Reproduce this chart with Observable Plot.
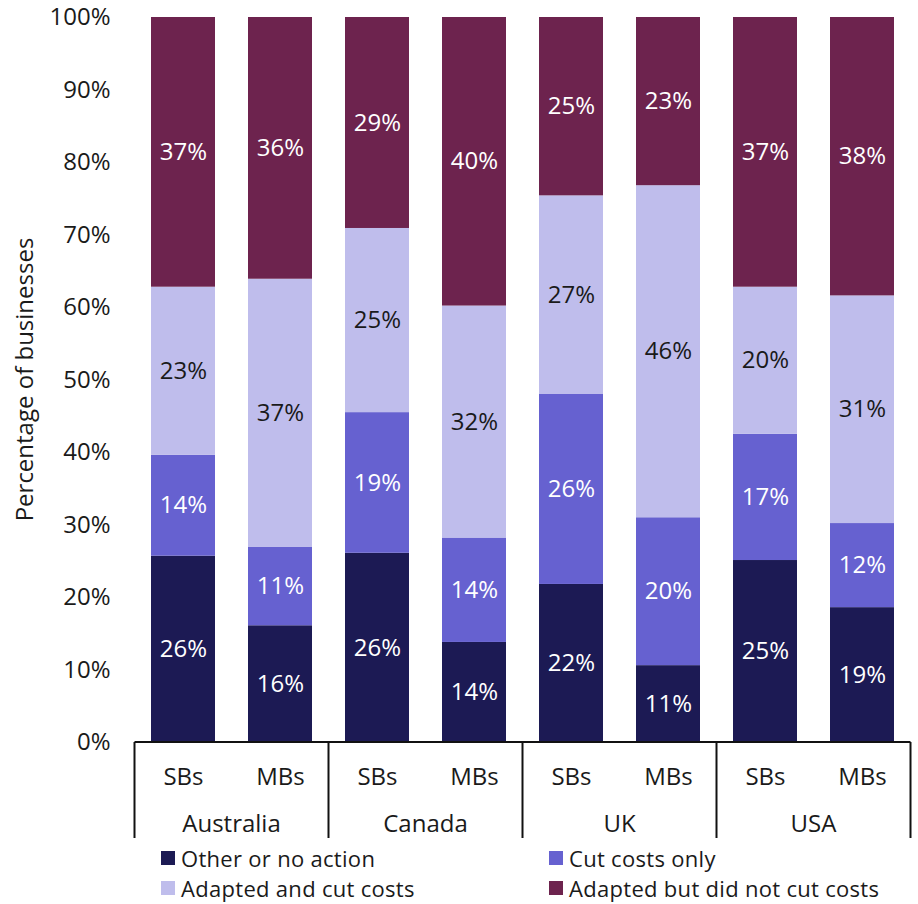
<!DOCTYPE html>
<html><head><meta charset="utf-8">
<script src="https://cdn.jsdelivr.net/npm/d3@7"></script>
<script src="https://cdn.jsdelivr.net/npm/@observablehq/plot@0.6"></script>
<style>
body{margin:0;background:#fff;font-family:"Open Sans",sans-serif;}
#wrap{position:relative;width:918px;height:904px;overflow:hidden;}
#chart svg{display:block;}
.leg{position:absolute;font-size:22px;letter-spacing:0.3px;color:#1a1a1a;display:flex;align-items:center;white-space:nowrap;line-height:1;}
.sw{width:14px;height:14px;margin-right:6px;flex:none;}
</style></head><body><div id="wrap"><div id="chart"></div></div>
<script>
const countries = ["Australia", "Canada", "UK", "USA"];
const sizes = ["SBs", "MBs"];
const categories = ["Other or no action", "Cut costs only", "Adapted and cut costs", "Adapted but did not cut costs"];
const colors = ["#1c1a54", "#6661d0", "#bfbdec", "#6d234e"];
// bar order: Australia SBs, Australia MBs, Canada SBs, Canada MBs, UK SBs, UK MBs, USA SBs, USA MBs
const otherNoAction = [25.7, 16.1, 26.1, 13.8, 21.8, 10.6, 25.1, 18.6];
const cutCostsOnly  = [13.9, 10.8, 19.4, 14.4, 26.2, 20.4, 17.4, 11.6];
const adaptedAndCut = [23.2, 37.0, 25.4, 32.0, 27.4, 45.8, 20.3, 31.4];
const adaptedNotCut = [37.2, 36.1, 29.1, 39.8, 24.6, 23.2, 37.2, 38.4];
const yTicks = [0, 10, 20, 30, 40, 50, 60, 70, 80, 90, 100];

const series = [otherNoAction, cutCostsOnly, adaptedAndCut, adaptedNotCut];
const keys = [];
countries.forEach(c => sizes.forEach(s => keys.push(c + "|" + s)));
const data = [];
categories.forEach((cat, ci) => {
  keys.forEach((k, i) => data.push({key: k, country: k.split("|")[0], size: k.split("|")[1], cat, value: series[ci][i]}));
});

const FS = 24;
const darkText = "Adapted and cut costs";

function groupMark(index, scales, values, dimensions) {
  const x = scales.x, y = scales.y;
  const bw = x.bandwidth(), step = x.step();
  const half = (step - bw) / 2;
  const y0 = y(0);
  const g = d3.create("svg:g");
  const edges = [];
  countries.forEach((c, i) => {
    const first = x(c + "|" + sizes[0]);
    const last = x(c + "|" + sizes[sizes.length - 1]);
    const left = first - half, right = last + bw + half;
    if (i === 0) edges.push(left);
    edges.push(right);
    g.append("text")
      .attr("x", (left + right) / 2)
      .attr("y", y0 + 90)
      .attr("text-anchor", "middle")
      .attr("font-size", FS)
      .attr("fill", "#1a1a1a")
      .text(c);
  });
  g.append("line").attr("x1", edges[0]).attr("x2", edges[edges.length - 1])
    .attr("y1", y0).attr("y2", y0).attr("stroke", "#111").attr("stroke-width", 2);
  edges.forEach(e => g.append("line").attr("x1", e).attr("x2", e)
    .attr("y1", y0).attr("y2", y0 + 96).attr("stroke", "#111").attr("stroke-width", 2));
  g.append("text")
    .attr("transform", `translate(25,${(y(0) + y(100)) / 2}) rotate(-90)`)
    .attr("text-anchor", "middle")
    .attr("dy", "0.35em")
    .attr("font-size", FS)
    .attr("fill", "#1a1a1a")
    .text("Percentage of businesses");
  return g.node();
}

const chart = Plot.plot({
  width: 918,
  height: 845,
  marginTop: 17,
  marginLeft: 134,
  marginRight: 7,
  marginBottom: 103,
  style: {fontFamily: "'Open Sans', sans-serif", fontSize: FS + "px", color: "#1a1a1a", background: "white"},
  x: {domain: keys, paddingInner: 0.34, paddingOuter: 0.17, label: null},
  y: {domain: [0, 100], label: null},
  color: {domain: categories, range: colors},
  marks: [
    Plot.barY(data, {x: "key", y: "value", fill: "cat", order: categories}),
    Plot.text(data, Plot.stackY({x: "key", y: "value", z: "cat", order: categories,
      text: d => d.cat !== darkText ? Math.round(d.value) + "%" : null, fill: "white", fontSize: FS})),
    Plot.text(data, Plot.stackY({x: "key", y: "value", z: "cat", order: categories,
      text: d => d.cat === darkText ? Math.round(d.value) + "%" : null, fill: "#1a1a1a", fontSize: FS})),
    Plot.axisY({ticks: yTicks, tickSize: 0, tickPadding: 24, tickFormat: d => d + "%", fontSize: FS, label: null}),
    Plot.axisX({tickSize: 0, tickPadding: 25, tickFormat: d => d.split("|")[1], fontSize: FS, label: null}),
    groupMark
  ]
});
document.getElementById("chart").appendChild(chart);

const legPos = [[161, 858], [549, 858], [161, 888], [549, 888]];
categories.forEach((cat, i) => {
  const el = document.createElement("div");
  el.className = "leg";
  el.style.left = legPos[i][0] + "px";
  el.style.top = (legPos[i][1] - 11) + "px";
  el.innerHTML = `<span class="sw" style="background:${colors[i]}"></span><span>${cat}</span>`;
  document.getElementById("wrap").appendChild(el);
});
</script>
</body></html>
